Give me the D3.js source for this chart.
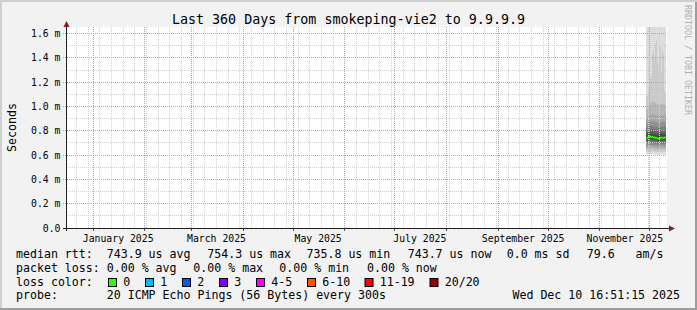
<!DOCTYPE html>
<html>
<head>
<meta charset="utf-8">
<script src="https://cdn.jsdelivr.net/npm/d3@7/dist/d3.min.js"></script>
<style>
  body { margin: 0; background: #f2f2f2; }
  svg { display: block; font-family: "DejaVu Sans Mono", monospace; }
  text { white-space: pre; }
</style>
</head>
<body>
<svg id="chart" width="697" height="310"></svg>
<script>
// ---- data ----
const graphStart = "2024-12-15 16:51:15";
const graphEnd = "2025-12-10 16:51:15";

const sampleTimes = [
  "2025-11-28 16:51:15", "2025-11-29 07:15:15", "2025-11-29 21:39:15", "2025-11-30 12:03:15",
  "2025-12-01 02:27:15", "2025-12-01 16:51:15", "2025-12-02 07:15:15", "2025-12-02 21:39:15",
  "2025-12-03 12:03:15", "2025-12-04 02:27:15", "2025-12-04 16:51:15", "2025-12-05 07:15:15",
  "2025-12-05 21:39:15", "2025-12-06 12:03:15", "2025-12-07 02:27:15", "2025-12-07 16:51:15",
  "2025-12-08 07:15:15", "2025-12-08 21:39:15", "2025-12-09 12:03:15", "2025-12-10 02:27:15"
];

// median rtt per sample, ms
const medianRtt = [0.7365, 0.744, 0.750, 0.7543, 0.752, 0.748, 0.751, 0.746, 0.745, 0.743,
                   0.742, 0.737, 0.7358, 0.738, 0.742, 0.744, 0.743, 0.7415, 0.744, 0.7437];

// the 20 sorted pings of each sample, ms (the smoke)
const pings = [
  [0.605,0.628,0.648,0.662,0.676,0.690,0.702,0.714,0.724,0.733,0.745,0.760,0.776,0.795,0.820,0.855,0.900,0.975,1.080,2.10],
  [0.608,0.630,0.650,0.665,0.680,0.694,0.706,0.718,0.729,0.739,0.752,0.766,0.782,0.802,0.828,0.862,0.910,0.985,1.100,2.30],
  [0.610,0.632,0.652,0.668,0.683,0.697,0.710,0.722,0.734,0.745,0.758,0.772,0.788,0.808,0.835,0.870,0.920,1.000,1.120,2.40],
  [0.612,0.634,0.654,0.670,0.685,0.700,0.713,0.726,0.738,0.749,0.762,0.776,0.792,0.812,0.838,0.874,0.925,1.010,1.150,2.20],
  [0.610,0.633,0.653,0.669,0.684,0.698,0.711,0.724,0.736,0.747,0.760,0.775,0.792,0.813,0.840,0.878,0.930,1.020,1.230,2.50],
  [0.608,0.631,0.651,0.667,0.682,0.696,0.709,0.721,0.733,0.744,0.757,0.772,0.789,0.810,0.838,0.876,0.930,1.030,1.250,2.60],
  [0.610,0.633,0.654,0.670,0.685,0.699,0.712,0.724,0.736,0.746,0.759,0.774,0.791,0.812,0.840,0.880,0.940,1.040,1.430,2.70],
  [0.607,0.630,0.650,0.666,0.681,0.695,0.708,0.720,0.731,0.742,0.755,0.770,0.787,0.808,0.836,0.876,0.935,1.035,1.470,2.50],
  [0.606,0.629,0.649,0.665,0.680,0.694,0.707,0.719,0.730,0.741,0.754,0.769,0.786,0.807,0.835,0.874,0.932,1.030,1.400,2.40],
  [0.605,0.628,0.648,0.664,0.679,0.693,0.706,0.718,0.729,0.740,0.753,0.768,0.785,0.806,0.834,0.873,0.930,1.030,1.520,2.80],
  [0.604,0.627,0.647,0.663,0.678,0.692,0.705,0.717,0.728,0.739,0.752,0.767,0.784,0.805,0.833,0.872,0.928,1.025,1.540,2.90],
  [0.602,0.625,0.645,0.661,0.676,0.690,0.702,0.713,0.724,0.734,0.747,0.762,0.779,0.800,0.828,0.866,0.920,1.015,1.360,2.60],
  [0.600,0.623,0.643,0.659,0.674,0.688,0.700,0.711,0.722,0.732,0.745,0.760,0.777,0.798,0.826,0.864,0.918,1.010,1.330,2.40],
  [0.602,0.625,0.645,0.661,0.676,0.690,0.702,0.714,0.725,0.735,0.748,0.763,0.780,0.801,0.829,0.868,0.922,1.015,1.500,2.70],
  [0.604,0.627,0.647,0.663,0.678,0.692,0.705,0.717,0.728,0.739,0.752,0.767,0.784,0.805,0.833,0.872,0.926,1.020,1.490,2.60],
  [0.606,0.629,0.649,0.665,0.680,0.694,0.707,0.719,0.730,0.741,0.754,0.769,0.786,0.807,0.835,0.874,0.928,1.020,1.290,2.50],
  [0.605,0.628,0.648,0.664,0.679,0.693,0.706,0.718,0.729,0.740,0.753,0.768,0.785,0.806,0.834,0.873,0.927,1.020,1.460,2.70],
  [0.604,0.627,0.647,0.663,0.678,0.692,0.705,0.717,0.728,0.738,0.751,0.766,0.783,0.804,0.832,0.871,0.925,1.018,1.440,2.60],
  [0.605,0.628,0.648,0.664,0.679,0.693,0.706,0.718,0.729,0.740,0.753,0.768,0.785,0.806,0.834,0.872,0.925,1.015,1.130,2.30],
  [0.605,0.628,0.648,0.664,0.679,0.693,0.706,0.718,0.729,0.740,0.753,0.768,0.785,0.806,0.834,0.872,0.924,1.012,1.110,2.20]
];

const yMax = 1.654;
const yTicks = [0, 0.2, 0.4, 0.6, 0.8, 1.0, 1.2, 1.4, 1.6];
const yMinorTicks = [0.1, 0.3, 0.5, 0.7, 0.9, 1.1, 1.3, 1.5];
const xLabelMonths = ["2025-01", "2025-03", "2025-05", "2025-07", "2025-09", "2025-11"];

const rttStats = ["743.9 us avg", "754.3 us max", "735.8 us min", "743.7 us now", "0.0 ms sd", "79.6   am/s"];
const lossStats = ["0.00 % avg", "0.00 % max", "0.00 % min", "0.00 % now"];
const lossLabels = ["0", "1", "2", "3", "4-5", "6-10", "11-19", "20/20"];
const lossColors = ["#26ff00", "#00b8ff", "#0059ff", "#7e00ff", "#ff00ff", "#ff5500", "#ff0000", "#a10000"];
const smokeShades = ["#dddddd", "#cacaca", "#b7b7b7", "#a4a4a4", "#919191",
                     "#7e7e7e", "#6b6b6b", "#585858", "#454545", "#323232"];

// ---- drawing ----
const W = 697, H = 310;
const pLeft = 66, pRight = 666, pTop = 27, pBottom = 228;
const parse = d3.utcParse("%Y-%m-%d %H:%M:%S");
const t0 = parse(graphStart), t1 = parse(graphEnd);
const times = sampleTimes.map(parse);

const x = d3.scaleUtc().domain([t0, t1]).range([pLeft, pRight]);
const y = d3.scaleLinear().domain([0, yMax]).range([pBottom, pTop]);

const svg = d3.select("#chart");

svg.append("rect").attr("width", W).attr("height", H).attr("fill", "#f2f2f2");
// rrdtool style 3d frame
svg.append("path").attr("d", "M0,0H697V2H2V310H0Z").attr("fill", "#cfcfcf");
svg.append("path").attr("d", "M695,2H697V310H0V308H695Z").attr("fill", "#9e9e9e");

svg.append("rect")
  .attr("x", pLeft).attr("y", pTop)
  .attr("width", pRight - pLeft + 1).attr("height", pBottom - pTop)
  .attr("fill", "#fff");

svg.append("clipPath").attr("id", "clip")
  .append("rect").attr("x", pLeft).attr("y", pTop)
  .attr("width", pRight - pLeft + 1).attr("height", pBottom - pTop);

const data = times.map((t, i) => ({
  t, next: i < times.length - 1 ? times[i + 1] : t1, m: medianRtt[i], p: pings[i]
}));

// smoke: nested bands between ping i and ping 21-i
const smoke = svg.append("g").attr("clip-path", "url(#clip)");
smokeShades.forEach((shade, k) => {
  smoke.append("g").attr("fill", shade)
    .selectAll("rect").data(data).join("rect")
    .attr("x", d => x(d.t))
    .attr("width", d => x(d.next) - x(d.t))
    .attr("y", d => y(d.p[19 - k]))
    .attr("height", d => y(d.p[k]) - y(d.p[19 - k]));
});

// median: dark line under a loss-coloured 2px band
const stepPts = data.map(d => [d.t, d.m]).concat([[t1, data[data.length - 1].m]]);
smoke.append("path")
  .attr("d", d3.line().x(d => x(d[0])).y(d => y(d[1])).curve(d3.curveStepAfter)(stepPts))
  .attr("fill", "none").attr("stroke", "#202020").attr("stroke-width", 1);
smoke.append("g").attr("fill", lossColors[0])
  .selectAll("rect").data(data).join("rect")
  .attr("x", d => x(d.t))
  .attr("width", d => x(d.next) - x(d.t))
  .attr("y", d => y(d.m) - 1)
  .attr("height", 2);

// grid (drawn over the data, as rrdtool does)
const px = v => Math.floor(v) + 0.5;
const dotted = (g, color) => g.attr("fill", "none").attr("stroke", color)
  .attr("stroke-width", 1).attr("stroke-dasharray", "1 1");

const weeks = d3.utcSunday.range(t0, t1);
const months = d3.utcMonth.range(d3.utcMonth.ceil(t0), t1);

const minor = dotted(svg.append("g"), "#d2d2d2");
minor.selectAll("line.v").data(weeks).join("line").attr("class", "v")
  .attr("x1", d => px(x(d))).attr("x2", d => px(x(d)))
  .attr("y1", pTop).attr("y2", pBottom);
minor.selectAll("line.h").data(yMinorTicks).join("line").attr("class", "h")
  .attr("x1", pLeft).attr("x2", pRight + 1)
  .attr("y1", d => px(y(d))).attr("y2", d => px(y(d)));

const major = dotted(svg.append("g"), "#ea8e8e");
major.selectAll("line.v").data(months).join("line").attr("class", "v")
  .attr("x1", d => px(x(d))).attr("x2", d => px(x(d)))
  .attr("y1", pTop).attr("y2", pBottom);
major.selectAll("line.h").data(yTicks.slice(1)).join("line").attr("class", "h")
  .attr("x1", pLeft - 3).attr("x2", pRight + 1)
  .attr("y1", d => px(y(d))).attr("y2", d => px(y(d)));

// ticks below x axis
svg.append("g").attr("stroke", "#555")
  .selectAll("line").data(months).join("line")
  .attr("x1", d => px(x(d))).attr("x2", d => px(x(d)))
  .attr("y1", pBottom).attr("y2", pBottom + 3);

// axes with arrows
svg.append("line").attr("x1", pLeft + 0.5).attr("x2", pLeft + 0.5)
  .attr("y1", pBottom + 3).attr("y2", pTop - 1).attr("stroke", "#1f1f1f");
svg.append("line").attr("x1", pLeft - 3).attr("x2", pRight + 3)
  .attr("y1", pBottom + 0.5).attr("y2", pBottom + 0.5).attr("stroke", "#1f1f1f");
svg.append("path").attr("fill", "#801f1f")
  .attr("d", `M${pLeft + 0.5},${pTop - 6}L${pLeft + 3.5},${pTop}L${pLeft - 2.5},${pTop}Z`);
svg.append("path").attr("fill", "#801f1f")
  .attr("d", `M${pRight + 9},${pBottom + 0.5}L${pRight + 3},${pBottom - 2.5}L${pRight + 3},${pBottom + 3.5}Z`);

// y labels
svg.append("g").attr("font-size", "9.8px").attr("text-anchor", "end").attr("fill", "#000")
  .selectAll("text").data(yTicks).join("text")
  .attr("x", 60.5).attr("y", d => px(y(d)) + 3.4)
  .text(d => d === 0 ? "0.0" : d3.format(".1f")(d) + " m");

// x labels (centred half a month after the month start)
const monthFmt = d3.utcFormat("%B %Y");
svg.append("g").attr("font-size", "9.8px").attr("text-anchor", "middle").attr("fill", "#000")
  .selectAll("text").data(xLabelMonths.map(d3.utcParse("%Y-%m"))).join("text")
  .attr("x", d => x(d3.utcDay.offset(d, 15)))
  .attr("y", 242)
  .text(monthFmt);

// title, vertical label, watermark
svg.append("text").attr("x", 348.5).attr("y", 24).attr("text-anchor", "middle")
  .attr("font-size", "13.33px").text("Last 360 Days from smokeping-vie2 to 9.9.9.9");
svg.append("text").attr("transform", "translate(15.5,127.5) rotate(-90)")
  .attr("text-anchor", "middle").attr("font-size", "11.6px").text("Seconds");
svg.append("text").attr("transform", "translate(684.5,5) rotate(90)")
  .attr("font-size", "8.3px").attr("fill", "#b0b0b0").text("RRDTOOL / TOBI OETIKER");

// legend
const lg = svg.append("g").attr("font-size", "11.6px").attr("fill", "#000");
const row = [258, 271.8, 285.6, 299.4];

lg.append("text").attr("x", 16).attr("y", row[0]).text("median rtt:  " + rttStats[0]);
[207.3, 306.5, 407.7, 506.7, 586.7].forEach((xx, i) =>
  lg.append("text").attr("x", xx).attr("y", row[0]).text(rttStats[i + 1]));

lg.append("text").attr("x", 16).attr("y", row[1]).text("packet loss: " + lossStats[0]);
[193.3, 279.3, 367].forEach((xx, i) =>
  lg.append("text").attr("x", xx).attr("y", row[1]).text(lossStats[i + 1]));

lg.append("text").attr("x", 16).attr("y", row[2]).text("loss color:");
const boxX = [108.5, 145.5, 182.5, 219.5, 256.5, 307.5, 365, 430];
lossLabels.forEach((lab, i) => {
  lg.append("rect").attr("x", boxX[i]).attr("y", 278.5).attr("width", 8).attr("height", 8)
    .attr("fill", lossColors[i]).attr("stroke", "#000").attr("stroke-width", 1);
  lg.append("text").attr("x", boxX[i] + 14.7).attr("y", row[2]).text(lab);
});

lg.append("text").attr("x", 16).attr("y", row[3])
  .text("probe:       20 ICMP Echo Pings (56 Bytes) every 300s");
lg.append("text").attr("x", 680).attr("y", row[3]).attr("text-anchor", "end")
  .text("Wed Dec 10 16:51:15 2025");
</script>
</body>
</html>
